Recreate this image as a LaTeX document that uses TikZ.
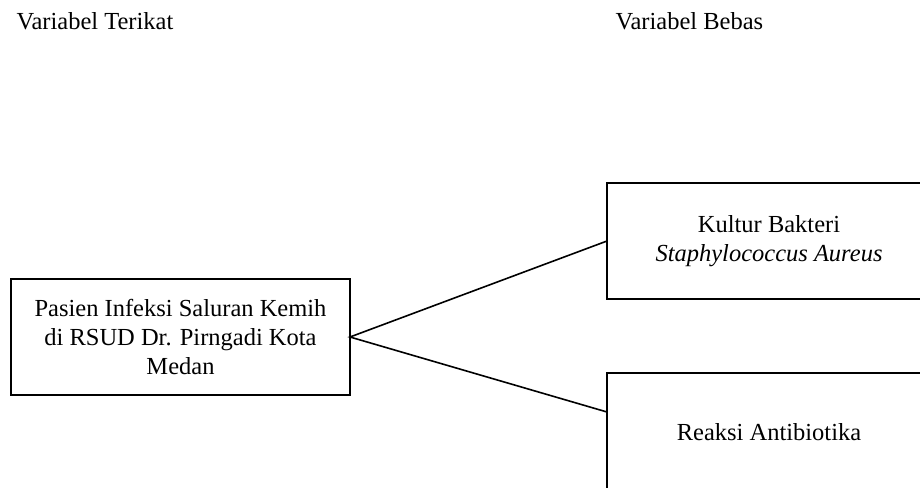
\documentclass[tikz,border=0pt]{standalone}
\usepackage{fontspec}
\setmainfont{Liberation Serif}

\begin{document}
\begin{tikzpicture}[x=1pt, y=-1pt, font=\fontsize{24.5pt}{29pt}\selectfont,
    varbox/.style={draw, line width=1.6pt, align=center, inner sep=0pt, outer sep=0pt},
    link/.style={line width=1.6pt}]
\useasboundingbox (0,0) rectangle (920,487);
\clip (0,0) rectangle (920,487);
% judul kolom
\node[anchor=base west] (judulTerikat) at (13,30) {Variabel Terikat};
\node[anchor=base west] (judulBebas) at (612,30) {Variabel Bebas};
% kotak variabel
\node[varbox, minimum width=339pt, minimum height=116pt] (pasien) at (180.5,337)
    {Pasien Infeksi Saluran Kemih\\di RSUD Dr. Pirngadi Kota\\Medan};
\node[varbox, minimum width=324pt, minimum height=116pt] (kultur) at (769,241)
    {Kultur Bakteri\\\textit{Staphylococcus Aureus}};
\node[varbox, minimum width=324pt, minimum height=118pt] (reaksi) at (769,432)
    {Reaksi Antibiotika};
% garis hubungan
\draw[link] (kultur.west) -- (pasien.east) -- ([yshift=20pt]reaksi.west);
\end{tikzpicture}
\end{document}
